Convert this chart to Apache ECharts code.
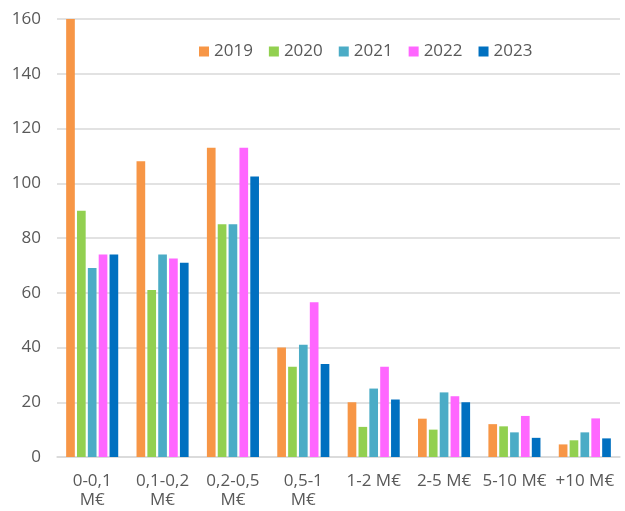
<!DOCTYPE html>
<html>
<head>
<meta charset="utf-8">
<script src="https://cdn.jsdelivr.net/npm/echarts@6/dist/echarts.min.js"></script>
<style>
  html, body { margin: 0; padding: 0; background: #fff; }
  #chart { width: 625px; height: 511px; }
</style>
</head>
<body>
<div id="chart"></div>
<script>
var categories = ["0-0,1\nM€", "0,1-0,2\nM€", "0,2-0,5\nM€", "0,5-1\nM€", "1-2 M€", "2-5 M€", "5-10 M€", "+10 M€"];
var years = ["2019", "2020", "2021", "2022", "2023"];
var colors = ["#F79646", "#92D050", "#4BACC6", "#FF66FF", "#0070C0"];

var v2019 = [160, 108, 113, 40, 20, 14, 12, 4.6];
var v2020 = [90, 61, 85, 33, 11, 10, 11.2, 6.1];
var v2021 = [69, 74, 85, 41, 25, 23.6, 9, 9];
var v2022 = [74, 72.5, 113, 56.5, 33, 22.2, 15, 14.1];
var v2023 = [74, 71, 102.5, 34, 21, 20, 7, 6.8];
var seriesValues = [v2019, v2020, v2021, v2022, v2023];

var yTicks = { min: 0, max: 160, interval: 20 };

var textColor = "#595959";
var fontFam = "'Open Sans', sans-serif";

var chart = echarts.init(document.getElementById("chart"));

var series = [];
for (var i = 0; i < years.length; i++) {
  series.push({
    name: years[i],
    type: "bar",
    barGap: "25%",
    barCategoryGap: "26%",
    itemStyle: { color: colors[i] },
    data: seriesValues[i],
  });
}

var option = {
  animation: false,
  color: colors,
  textStyle: { fontFamily: fontFam },
  grid: { left: 57, right: 5, top: 19, bottom: 54 },
  legend: {
    data: years,
    left: 194,
    top: 38,
    icon: "rect",
    itemWidth: 10,
    itemHeight: 10,
    itemGap: 16,
    textStyle: { color: textColor, fontSize: 17, fontFamily: fontFam },
  },
  xAxis: {
    type: "category",
    data: categories,
    axisTick: { show: false },
    axisLine: { lineStyle: { color: "#D9D9D9", width: 1.5 } },
    axisLabel: {
      color: textColor,
      fontSize: 17,
      fontFamily: fontFam,
      margin: 15,
      lineHeight: 19,
      interval: 0,
    },
  },
  yAxis: {
    type: "value",
    min: yTicks.min,
    max: yTicks.max,
    interval: yTicks.interval,
    axisLine: { show: false },
    axisTick: { show: false },
    splitLine: { lineStyle: { color: "#D9D9D9", width: 1.5 } },
    axisLabel: { color: textColor, fontSize: 17, fontFamily: fontFam, margin: 16 },
  },
  series: series,
};
option && chart.setOption(option);
</script>
</body>
</html>
